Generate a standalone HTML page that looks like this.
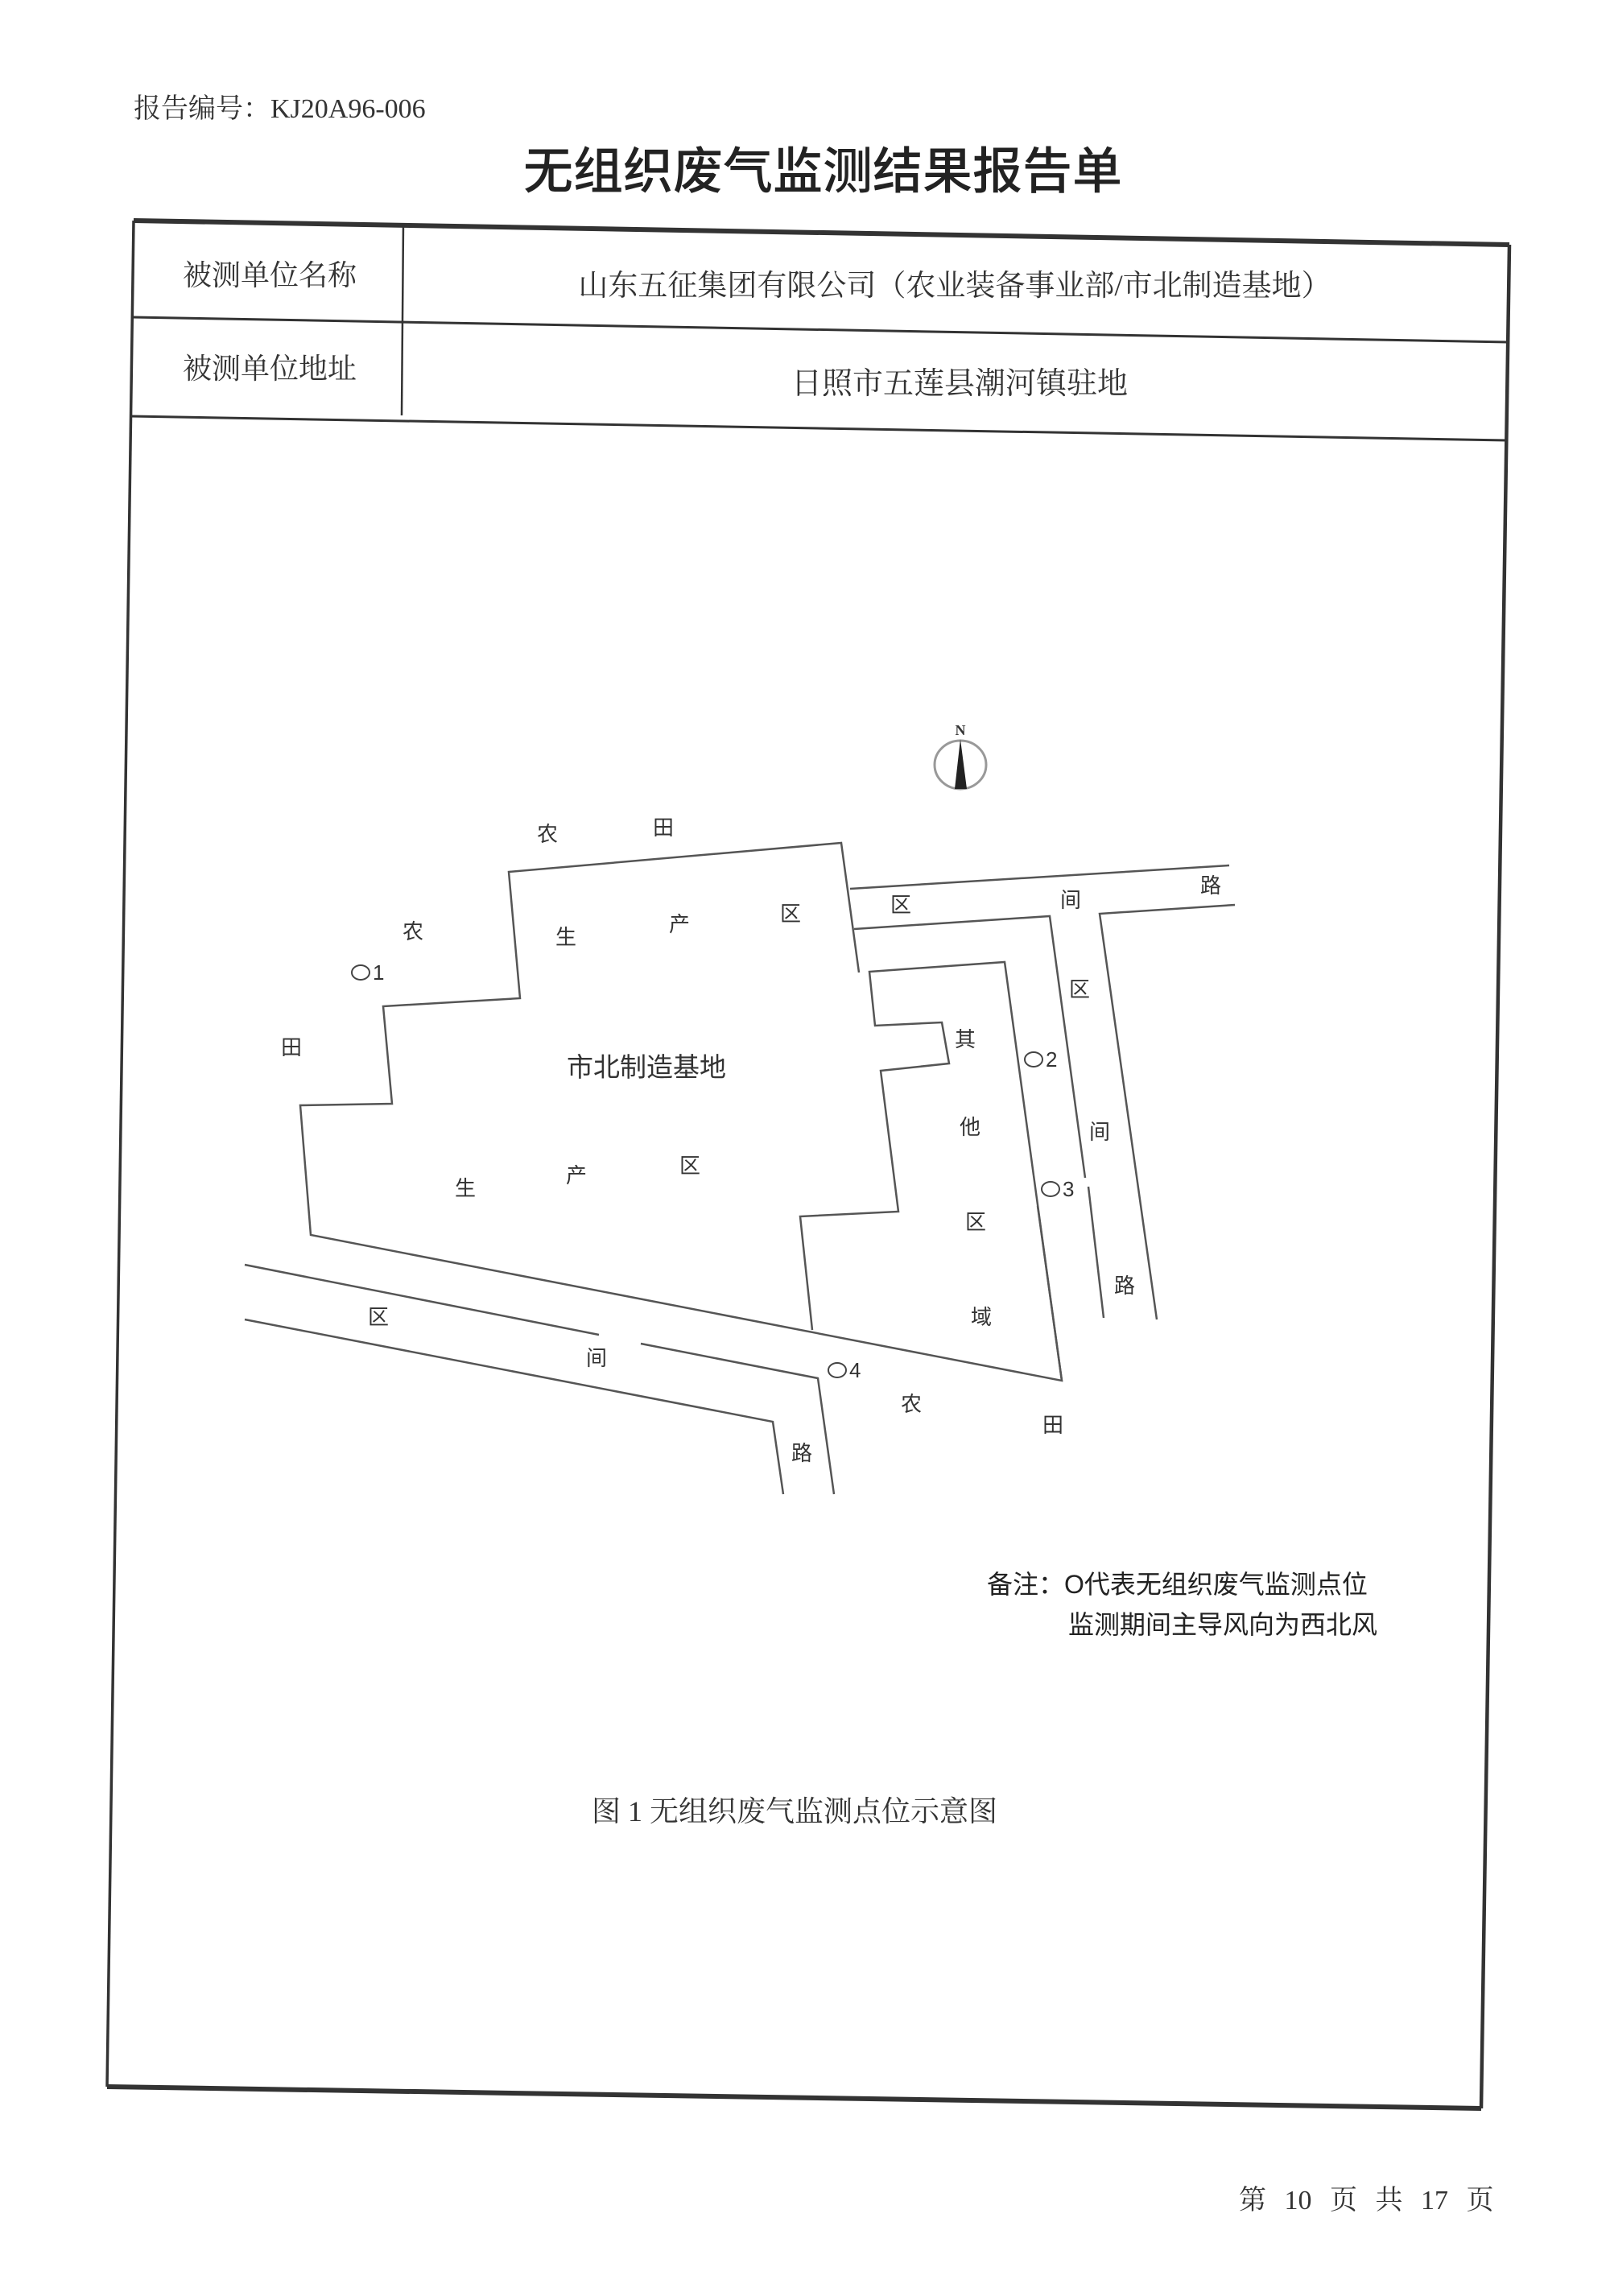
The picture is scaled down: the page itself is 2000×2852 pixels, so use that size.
<!DOCTYPE html>
<html><head><meta charset="utf-8"><style>
html,body{margin:0;padding:0;background:#fff;}
svg{display:block;}
.s{font-family:"Liberation Serif","Noto Serif CJK SC",serif;fill:#333;}
.h{font-family:"Liberation Sans","Noto Sans CJK SC",sans-serif;fill:#222;}
.m{font-family:"Liberation Sans","Noto Sans CJK SC",sans-serif;fill:#333;font-size:26px;}
</style></head><body>
<svg width="2000" height="2852" viewBox="0 0 2000 2852" xmlns="http://www.w3.org/2000/svg">
<rect width="2000" height="2852" fill="#fff"/>
<text class="s" x="166" y="146" font-size="34">报告编号：KJ20A96-006</text>
<text class="h" x="1022" y="234" font-size="62" text-anchor="middle" font-weight="500">无组织废气监测结果报告单</text>
<g stroke="#333" fill="none">
<line x1="166" y1="274" x2="1875" y2="304" stroke-width="6"/>
<line x1="133" y1="2592" x2="1840" y2="2619" stroke-width="6"/>
<line x1="166" y1="274" x2="133" y2="2592" stroke-width="3.5"/>
<line x1="1875" y1="304" x2="1840" y2="2619" stroke-width="4.5"/>
<line x1="165" y1="394" x2="1874" y2="425" stroke-width="3"/>
<line x1="163" y1="517" x2="1872" y2="547" stroke-width="3"/>
<line x1="501" y1="277" x2="499" y2="516" stroke-width="2.5"/>
</g>
<text class="s" x="227" y="354" font-size="36">被测单位名称</text>
<text class="s" x="227" y="470" font-size="36">被测单位地址</text>
<text class="s" x="1186" y="367" font-size="37" text-anchor="middle">山东五征集团有限公司（农业装备事业部/市北制造基地）</text>
<text class="s" x="1192" y="489" font-size="38" text-anchor="middle">日照市五莲县潮河镇驻地</text>

<ellipse cx="1193" cy="950" rx="32" ry="30" fill="none" stroke="#999" stroke-width="3"/>
<polygon points="1193,918 1186,980 1201,980" fill="#222"/>
<text x="1193" y="913" font-size="18" font-weight="bold" text-anchor="middle" font-family="Liberation Serif,serif" fill="#333">N</text>

<g stroke="#555" stroke-width="2.5" fill="none" stroke-linejoin="miter">
<polyline points="1067,1208 1045,1047 632,1083 646,1240 476,1250 487,1371 373,1373 386,1534 1319,1715 1284,1460"/>
<polyline points="1289,1498 1319,1715"/>
<polyline points="1284,1460 1248,1195 1080,1207 1087,1274 1170,1270 1179,1321 1094,1330 1116,1505 994,1511 1009,1652"/>
<line x1="1056" y1="1104" x2="1527" y2="1075"/>
<polyline points="1061,1154 1304,1138 1348,1463"/>
<line x1="1352" y1="1474" x2="1371" y2="1637"/>
<polyline points="1534,1124 1366,1135 1437,1639"/>
<polyline points="304,1571 744,1658"/>
<polyline points="796,1669 1016,1712 1036,1856"/>
<polyline points="304,1639 960,1766 973,1856"/>
</g>

<g class="m" text-anchor="middle">
<text x="680" y="1045">农</text>
<text x="824" y="1037">田</text>
<text x="513" y="1166">农</text>
<text x="362" y="1310">田</text>
<text x="703" y="1173">生</text>
<text x="844" y="1157">产</text>
<text x="982" y="1144">区</text>
<text x="803" y="1337" font-size="33">市北制造基地</text>
<text x="578" y="1485">生</text>
<text x="716" y="1469">产</text>
<text x="857" y="1457">区</text>
<text x="1119" y="1133">区</text>
<text x="1330" y="1127">间</text>
<text x="1504" y="1109">路</text>
<text x="1341" y="1238">区</text>
<text x="1366" y="1415">间</text>
<text x="1397" y="1606">路</text>
<text x="1199" y="1300">其</text>
<text x="1205" y="1409">他</text>
<text x="1212" y="1527">区</text>
<text x="1219" y="1645">域</text>
<text x="470" y="1645">区</text>
<text x="741" y="1696">间</text>
<text x="1132" y="1753">农</text>
<text x="1308" y="1779">田</text>
<text x="996" y="1814">路</text>
</g>
<g fill="none" stroke="#444" stroke-width="2">
<ellipse cx="448" cy="1208" rx="11" ry="9"/>
<ellipse cx="1284" cy="1316" rx="11" ry="9"/>
<ellipse cx="1305" cy="1477" rx="11" ry="9"/>
<ellipse cx="1040" cy="1702" rx="11" ry="9"/>
</g>
<g class="m" font-size="24">
<text x="463" y="1217">1</text>
<text x="1299" y="1325">2</text>
<text x="1320" y="1486">3</text>
<text x="1055" y="1711">4</text>
</g>

<text class="h" x="1226" y="1979" font-size="32">备注：O代表无组织废气监测点位</text>
<text class="h" x="1327" y="2029" font-size="32">监测期间主导风向为西北风</text>
<text class="s" x="735" y="2262" font-size="36">图 1 无组织废气监测点位示意图</text>
<text class="s" x="1539" y="2744" font-size="34" word-spacing="14">第 10 页 共 17 页</text>
</svg>
</body></html>
